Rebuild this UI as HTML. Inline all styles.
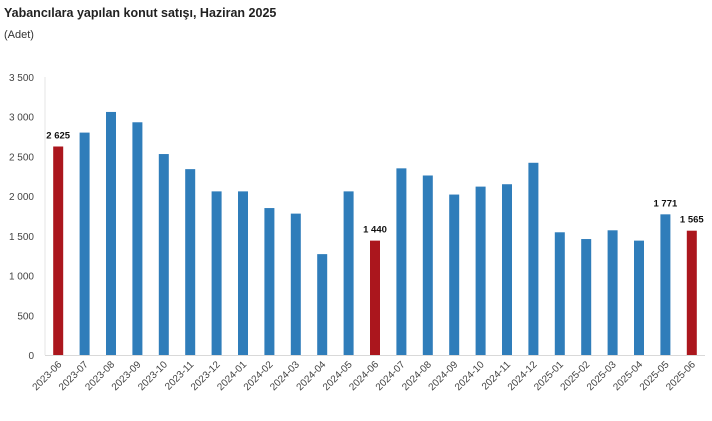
<!DOCTYPE html>
<html><head><meta charset="utf-8"><style>
body{margin:0;background:#fff;font-family:"Liberation Sans",sans-serif}
svg text{font-family:"Liberation Sans",sans-serif}
</style></head><body>
<svg width="712" height="416" viewBox="0 0 712 416">
<text x="4" y="17" font-size="12.5" font-weight="bold" fill="#222">Yabancılara yapılan konut satışı, Haziran 2025</text>
<text x="4" y="38" font-size="11" fill="#333">(Adet)</text>
<g id="yaxis"></g><g id="bars"></g><g id="xaxis"></g>
</svg>
<script>
const categories=["2023-06","2023-07","2023-08","2023-09","2023-10","2023-11","2023-12","2024-01","2024-02","2024-03","2024-04","2024-05","2024-06","2024-07","2024-08","2024-09","2024-10","2024-11","2024-12","2025-01","2025-02","2025-03","2025-04","2025-05","2025-06"];
const values=[2625,2800,3060,2930,2530,2340,2060,2060,1850,1780,1270,2060,1440,2350,2260,2020,2120,2150,2420,1545,1460,1570,1440,1771,1565];
const highlighted=["2023-06","2024-06","2025-06"];
const labelled=["2023-06","2024-06","2025-05","2025-06"];
const yTicks=[0,500,1000,1500,2000,2500,3000,3500];
const NS="http://www.w3.org/2000/svg";
const y0=355,yTop=77,yMax=3500,x0=45,x1=705;
const y=v=>y0-(v/yMax)*(y0-yTop);
const step=(x1-x0)/categories.length;
const xc=i=>x0+step*(i+0.5);
const fmt=v=>String(v).replace(/\B(?=(\d{3})+(?!\d))/g," ");
function mk(t,a,p){const e=document.createElementNS(NS,t);for(const k in a)e.setAttribute(k,a[k]);p.appendChild(e);return e;}
const ya=document.getElementById('yaxis'),ba=document.getElementById('bars'),xa=document.getElementById('xaxis');
yTicks.forEach(v=>{const t=mk('text',{x:34,y:y(v)+4,'text-anchor':'end','font-size':'10',fill:'#444'},ya);t.textContent=fmt(v);

});
const yl=mk('line',{x1:x0,x2:x0,y1:yTop,y2:y0,stroke:'#e6e6e6'},ya);


const xl=mk('line',{x1:x0,x2:x1,y1:y0+0.5,y2:y0+0.5,stroke:'#d9d9d9'},xa);


categories.forEach((c,i)=>{const v=values[i];const hi=highlighted.includes(c);
const r=mk('rect',{x:xc(i)-5,y:y(v),width:10,height:y0-y(v),fill:hi?'#ab161d':'#2f7dba'},ba);


if(labelled.includes(c)){const t=mk('text',{x:xc(i),y:y(v)-8,'text-anchor':'middle','font-size':'9.5','font-weight':'bold',fill:'#111'},ba);t.textContent=fmt(v);

}
const t=mk('text',{x:xc(i)+4,y:y0+10,'text-anchor':'end','font-size':'10',fill:'#444',transform:`rotate(-45 ${xc(i)+4} ${y0+10})`},xa);t.textContent=c;

});
</script>
</body></html>
